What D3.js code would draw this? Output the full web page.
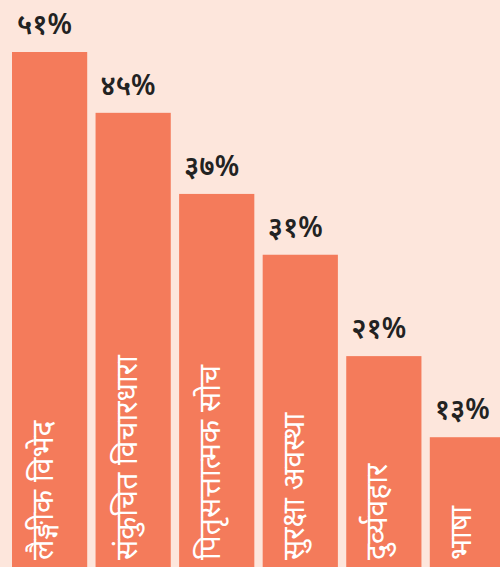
<!DOCTYPE html>
<html>
<head>
<meta charset="utf-8">
<script src="https://cdn.jsdelivr.net/npm/d3@7"></script>
<style>
  html, body { margin: 0; padding: 0; background: #fde6dc; }
</style>
</head>
<body>
<div id="chart"></div>
<script>
"use strict"

// data
let categories = ["लैङ्गीक विभेद", "संकुचित विचारधारा", "पितृसत्तात्मक सोच", "सुरक्षा अवस्था", "दुर्व्यवहार", "भाषा"];
let values = [51, 45, 37, 31, 21, 13];

let width = 500;
let height = 567;

let barColor = "#f47b5b";
let bgColor = "#fde6dc";

let devDigits = ["०", "१", "२", "३", "४", "५", "६", "७", "८", "९"];
function toDev(n) {
    return String(n).split("").map(c => devDigits[+c]).join("") + "%";
}

let svg = d3.select("#chart")
    .append("svg")
    .attr("width", width)
    .attr("height", height);

svg.append("rect")
    .attr("width", width)
    .attr("height", height)
    .attr("fill", bgColor);

// scales
let x = d3.scaleBand()
    .domain(categories)
    .range([12, 505])
    .paddingInner(0.1)
    .paddingOuter(0);

let y = d3.scaleLinear()
    .domain([0, 51])
    .range([height + 2, 52]);

let data = categories.map((c, i) => ({ cat: c, val: values[i] }));

// bars
svg.selectAll("rect.bar")
    .data(data)
    .join("rect")
    .attr("class", "bar")
    .attr("x", d => x(d.cat))
    .attr("y", d => y(d.val))
    .attr("width", x.bandwidth())
    .attr("height", d => height - y(d.val))
    .attr("fill", barColor);

// value labels
svg.selectAll("text.val")
    .data(data)
    .join("text")
    .attr("class", "val")
    .attr("x", d => x(d.cat) + 5)
    .attr("y", d => y(d.val) - 18)
    .attr("font-family", "'Noto Sans', sans-serif")
    .attr("font-size", 28)
    .attr("font-weight", 600)
    .attr("fill", "#222")
    .text(d => toDev(d.val));

// category labels, rotated inside bars
svg.selectAll("text.cat")
    .data(data)
    .join("text")
    .attr("class", "cat")
    .attr("transform", d => `translate(${x(d.cat) + 41}, ${height - 7}) rotate(-90)`)
    .attr("font-family", "'Noto Sans', sans-serif")
    .attr("font-size", 30)
    .attr("fill", "#fff")
    .text(d => d.cat);
</script>
</body>
</html>
